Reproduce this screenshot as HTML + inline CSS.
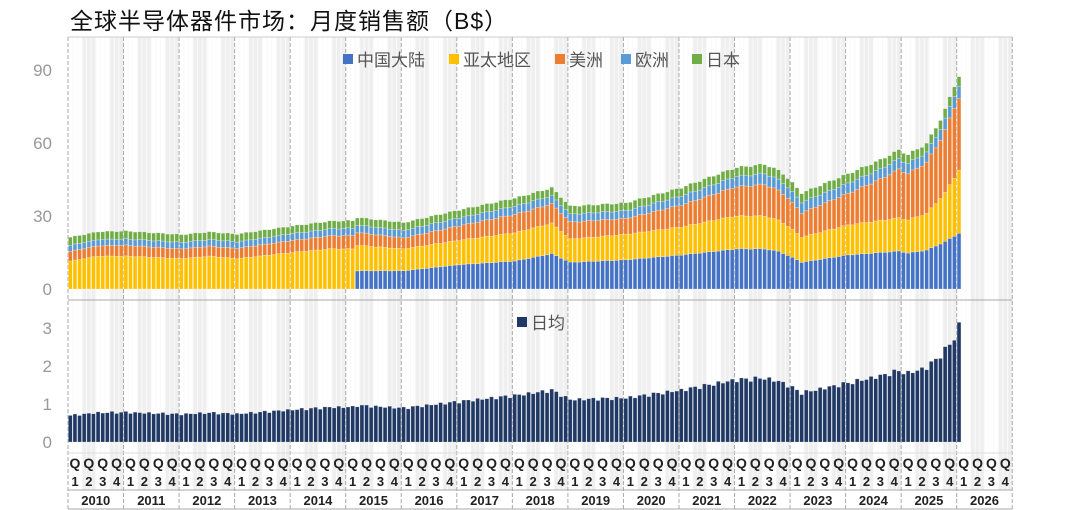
<!DOCTYPE html>
<html><head><meta charset="utf-8"><style>
html,body{margin:0;padding:0;background:#fff;}
svg{display:block;font-family:"Liberation Sans","Noto Sans CJK SC",sans-serif;}
</style></head><body>
<svg id="c" width="1080" height="510" xmlns="http://www.w3.org/2000/svg"></svg>
<script>
const S=document.getElementById('c');
const L=68, MW=(956.7-68)/192, R=L+MW*204;
const Y0=289, K=2.433, D0=442, DK=38;
let h='';
for(let q=0;q<68;q++){
  const x=L+q*MW*3;
  if(q%2==1) h+=`<rect x="${x}" y="37" width="${MW*3}" height="453" fill="#efefef"/>`;
}
for(let m=0;m<=204;m++){const x=L+m*MW; if(m%12) h+=`<line x1="${x}" y1="37" x2="${x}" y2="490" stroke="#fafafa" stroke-width="1"/>`;}
for(let y=0;y<=17;y++){const x=L+y*MW*12; h+=`<line x1="${x}" y1="37" x2="${x}" y2="509" stroke="#aaa" stroke-width="1" stroke-dasharray="4,2"/>`;}
h+=`<line x1="${L}" y1="37" x2="${R}" y2="37" stroke="#ccc"/>`;
h+=`<line x1="${L}" y1="300" x2="${R}" y2="300" stroke="#aaa"/>`;
h+=`<line x1="${L}" y1="453" x2="${R}" y2="453" stroke="#ddd"/>`;
h+=`<line x1="${L}" y1="490" x2="${R}" y2="490" stroke="#aaa"/>`;
h+=`<line x1="${L}" y1="509" x2="${R}" y2="509" stroke="#aaa"/>`;
function interp(k,m){for(let i=0;i<k.length-1;i++){if(m>=k[i][0]&&m<=k[i+1][0]){const t=(m-k[i][0])/(k[i+1][0]-k[i][0]);return k[i][1]+t*(k[i+1][1]-k[i][1]);}}return k[k.length-1][1];}
const blue=[[0,0],[61,0],[61.5,7.5],[72,7.5],[84,10],[96,11.5],[104,14.5],[108,11],[120,12],[132,14],[144,16.5],[150,16.5],[153,15.5],[156,13],[158,11],[168,14],[175,15],[179,15.6],[181,14.8],[185,16],[189,19.5],[192,23]];
const yel=[[0,11.5],[6,13.5],[12,13.5],[24,12.5],[30,13.5],[36,12.5],[48,15],[56,16.5],[61,16.5],[61.5,10.5],[72,9],[84,10],[95,11.5],[104,12.5],[108,9.5],[120,10.5],[132,11.5],[143,13.5],[150,13.5],[154,12.5],[158,10.3],[168,12.3],[179,13.6],[181,13.6],[185,15],[189,20],[192,26]];
const ora=[[0,4],[12,4.5],[24,4],[36,4.2],[48,5],[60,5.5],[72,4.5],[84,6],[96,7.5],[104,8],[108,7],[120,6.5],[132,9],[144,12],[150,13],[154,12],[158,10],[168,13],[175,17],[179,20],[181,19],[185,21],[188,24],[191,29],[192,29.5]];
const eu=[[0,2.5],[48,2.8],[96,3.4],[120,3.2],[150,4.5],[170,4.2],[185,4.2],[192,5]];
const jp=[[0,3.3],[48,3.1],[96,3.3],[120,3.2],[150,3.8],[170,3.8],[185,3.6],[192,4]];
const cols=['#4472C4','#FFC000','#ED7D31','#5B9BD5','#70AD47'];
const ser=[blue,yel,ora,eu,jp];
for(let m=0;m<=192;m++){
  const x=L+m*MW+0.4, w=MW-0.8;
  const n=1+0.008*Math.sin(m*1.7);
  let acc=0;
  for(let s=0;s<5;s++){
    const v=interp(ser[s],m)*n; if(v<=0) continue;
    const y1=Y0-(acc+v)*K, hh=v*K;
    h+=`<rect x="${x}" y="${y1}" width="${w}" height="${hh}" fill="${cols[s]}" stroke="rgba(255,255,255,0.5)" stroke-width="0.5"/>`;
    acc+=v;
  }
  let d=acc/30.5*(1+0.035*Math.sin(m*2.3));
  if(m==192) d=3.15;
  h+=`<rect x="${x}" y="${D0-d*DK}" width="${w}" height="${d*DK}" fill="#203864" stroke="rgba(255,255,255,0.4)" stroke-width="0.5"/>`;
}
[[0,289],[30,216],[60,143],[90,70]].forEach(([v,y])=>h+=`<text x="52" y="${y+6}" text-anchor="end" font-size="17" fill="#999">${v}</text>`);
[0,1,2,3].forEach(v=>h+=`<text x="52" y="${D0-v*DK+6}" text-anchor="end" font-size="17" fill="#999">${v}</text>`);
for(let q=0;q<68;q++){const x=L+q*MW*3+MW*1.5;
  h+=`<text x="${x}" y="468" text-anchor="middle" font-size="14" font-weight="bold" fill="#222">Q</text>`;
  h+=`<text x="${x}" y="486" text-anchor="middle" font-size="13" font-weight="bold" fill="#222">${q%4+1}</text>`;}
for(let y=0;y<17;y++){h+=`<text x="${L+y*MW*12+MW*6}" y="505" text-anchor="middle" font-size="13" font-weight="bold" fill="#222">${2010+y}</text>`;}
h+=`<text x="70" y="29" font-size="23" letter-spacing="1" fill="#111">全球半导体器件市场：月度销售额（B$）</text>`;
const lg=[[343,'中国大陆'],[449,'亚太地区'],[555,'美洲'],[621,'欧洲'],[692,'日本']];
lg.forEach(([x,t],i)=>{h+=`<rect x="${x}" y="54" width="10" height="10" fill="${cols[i]}"/><text x="${x+14}" y="66" font-size="17" fill="#555">${t}</text>`;});
h+=`<rect x="517" y="317" width="10" height="10" fill="#203864"/><text x="531" y="329" font-size="17" fill="#555">日均</text>`;
S.innerHTML=h;
</script>
</body></html>
